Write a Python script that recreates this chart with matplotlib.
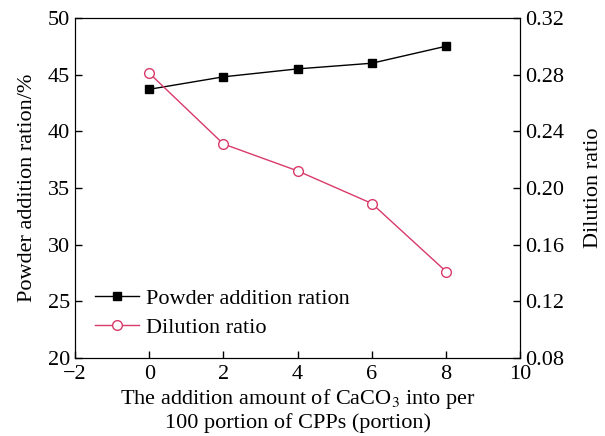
import numpy as np
import matplotlib
matplotlib.use('Agg')
import matplotlib.pyplot as plt

plt.rcParams['font.family'] = ['Liberation Serif', 'DejaVu Serif']
plt.rcParams['mathtext.fontset'] = 'stix'

amount = [0, 2, 4, 6, 8]
powder = [43.7, 44.8, 45.5, 46.0, 47.5]
dilution = [0.281, 0.231, 0.212, 0.189, 0.141]

fig = plt.figure(figsize=(6.05, 4.36), dpi=100)
ax1 = fig.add_axes([0.124, 0.179, 0.736, 0.78])
ax2 = ax1.twinx()

l1, = ax1.plot(amount, powder, '-s', color='black', ms=6, lw=1,
               label='Powder addition ration')
l2, = ax2.plot(amount, dilution, '-o', color='#d83a6a', ms=7, lw=1,
               mfc='white', mec='#d83a6a', label='Dilution ratio')

ax1.set_xlim(-2, 10)
ax1.set_ylim(20, 50)
ax2.set_ylim(0.08, 0.32)
ax1.set_xticks(np.arange(-2, 11, 2))
ax1.set_yticks(np.arange(20, 51, 5))
ax2.set_yticks(np.arange(0.08, 0.33, 0.04))
ax2.set_yticklabels(['%.2f' % v for v in np.arange(0.08, 0.33, 0.04)])
ax1.set_xticklabels(['\u22122', '0', '2', '4', '6', '8', '10'])

ax1.tick_params(direction='in', labelsize=16, length=5, width=1)
ax2.tick_params(direction='in', labelsize=16, length=5, width=1)
ax1.tick_params(axis='x', pad=5)

ax1.set_xlabel('The addition amount of CaCO$_3$ into per\n100 portion of CPPs (portion)',
               fontsize=16, labelpad=2, linespacing=1.15)
ax1.set_ylabel('Powder addition ration/%', fontsize=16, labelpad=8)
ax2.set_ylabel('Dilution ratio', fontsize=16, labelpad=14)

ax1.legend([l1, l2], [l1.get_label(), l2.get_label()], loc='lower left',
           frameon=False, fontsize=16, handlelength=2.0, handletextpad=0.3,
           bbox_to_anchor=(0.0, 0.0), labelspacing=0.4)

fig.savefig('out.png', dpi=100)
